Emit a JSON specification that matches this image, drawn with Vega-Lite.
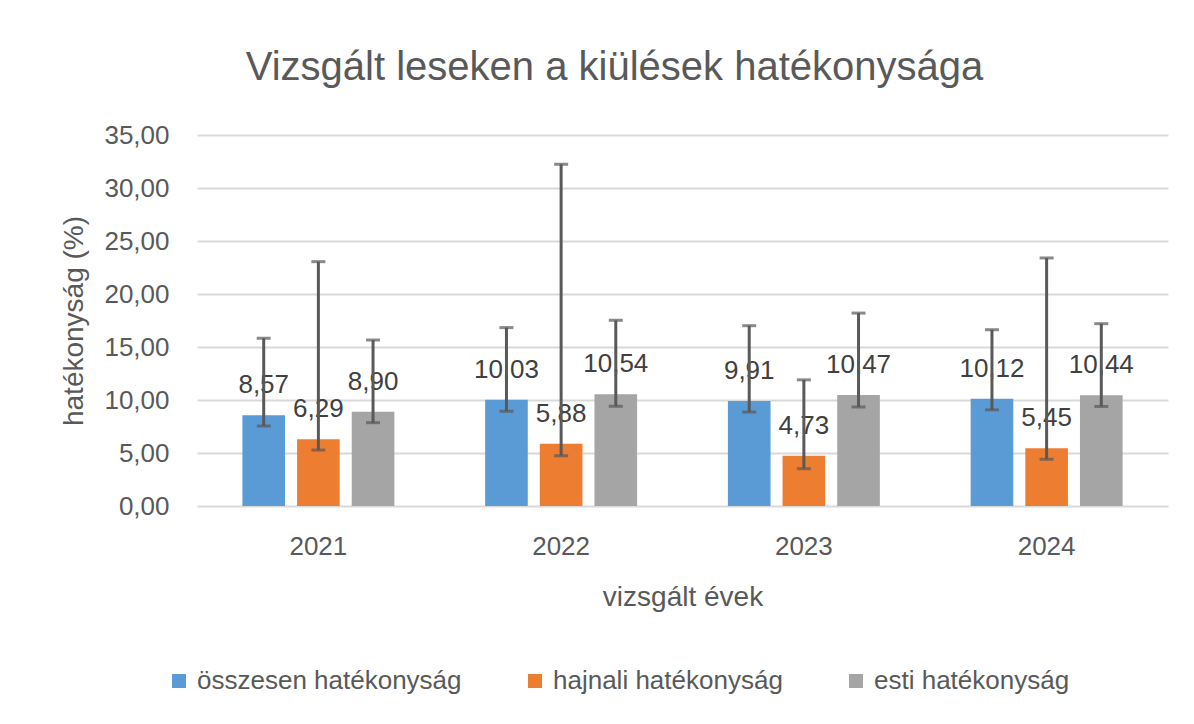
{
  "$schema": "https://vega.github.io/schema/vega-lite/v6.json",
  "width": 971,
  "height": 371,
  "autosize": {"type": "none"},
  "padding": {"left": 197, "top": 135, "right": 26, "bottom": 218},
  "background": "white",
  "config": {
    "locale": {"number": {"decimal": ",", "thousands": " ", "grouping": [3], "currency": ["", ""]}},
    "view": {"stroke": null},
    "font": "Liberation Sans"
  },
  "title": {
    "text": "Vizsgált leseken a kiülések hatékonysága",
    "font": "Liberation Sans",
    "fontSize": 40,
    "fontWeight": "normal",
    "color": "#595959",
    "anchor": "middle",
    "frame": "bounds",
    "baseline": "alphabetic",
    "offset": 2
  },
  "data": {
    "values": [
      {"ev": "2021", "sorozat": "összesen hatékonyság", "ertek": 8.57, "also": 7.55, "felso": 15.82},
      {"ev": "2021", "sorozat": "hajnali hatékonyság", "ertek": 6.29, "also": 5.28, "felso": 23.05},
      {"ev": "2021", "sorozat": "esti hatékonyság", "ertek": 8.90, "also": 7.86, "felso": 15.66},
      {"ev": "2022", "sorozat": "összesen hatékonyság", "ertek": 10.03, "also": 8.94, "felso": 16.83},
      {"ev": "2022", "sorozat": "hajnali hatékonyság", "ertek": 5.88, "also": 4.74, "felso": 32.24},
      {"ev": "2022", "sorozat": "esti hatékonyság", "ertek": 10.54, "also": 9.41, "felso": 17.52},
      {"ev": "2023", "sorozat": "összesen hatékonyság", "ertek": 9.91, "also": 8.86, "felso": 17.01},
      {"ev": "2023", "sorozat": "hajnali hatékonyság", "ertek": 4.73, "also": 3.52, "felso": 11.9},
      {"ev": "2023", "sorozat": "esti hatékonyság", "ertek": 10.47, "also": 9.34, "felso": 18.2},
      {"ev": "2024", "sorozat": "összesen hatékonyság", "ertek": 10.12, "also": 9.07, "felso": 16.63},
      {"ev": "2024", "sorozat": "hajnali hatékonyság", "ertek": 5.45, "also": 4.41, "felso": 23.4},
      {"ev": "2024", "sorozat": "esti hatékonyság", "ertek": 10.44, "also": 9.39, "felso": 17.2}
    ]
  },
  "encoding": {
    "x": {
      "field": "ev",
      "type": "nominal",
      "scale": {"paddingInner": 0.374, "paddingOuter": 0.187},
      "axis": {
        "title": "vizsgált évek",
        "labelAngle": 0,
        "domain": false,
        "ticks": false,
        "grid": false,
        "labelFont": "Liberation Sans",
        "labelFontSize": 26,
        "labelColor": "#595959",
        "labelPadding": 27,
        "titleFont": "Liberation Sans",
        "titleFontSize": 28,
        "titleFontWeight": "normal",
        "titleColor": "#595959",
        "titlePadding": 24
      }
    },
    "xOffset": {
      "field": "sorozat",
      "type": "nominal",
      "sort": ["összesen hatékonyság", "hajnali hatékonyság", "esti hatékonyság"],
      "scale": {"paddingInner": 0.22, "paddingOuter": 0}
    }
  },
  "layer": [
    {
      "mark": {"type": "bar"},
      "encoding": {
        "y": {
          "field": "ertek",
          "type": "quantitative",
          "scale": {"domain": [0, 35], "nice": false},
          "axis": {
            "title": "hatékonyság (%)",
            "values": [0, 5, 10, 15, 20, 25, 30, 35],
            "format": ".2f",
            "domain": false,
            "ticks": false,
            "grid": true,
            "gridColor": "#D9D9D9",
            "gridWidth": 2,
            "labelFont": "Liberation Sans",
            "labelFontSize": 26,
            "labelColor": "#595959",
            "labelPadding": 28,
            "titleFont": "Liberation Sans",
            "titleFontSize": 28,
            "titleFontWeight": "normal",
            "titleColor": "#595959",
            "titlePadding": 15
          }
        },
        "color": {
          "field": "sorozat",
          "type": "nominal",
          "sort": ["összesen hatékonyság", "hajnali hatékonyság", "esti hatékonyság"],
          "scale": {
            "domain": ["összesen hatékonyság", "hajnali hatékonyság", "esti hatékonyság"],
            "range": ["#5B9BD5", "#ED7D31", "#A5A5A5"]
          },
          "legend": {
            "title": null,
            "orient": "none",
            "legendX": -31,
            "legendY": 533,
            "direction": "horizontal",
            "symbolType": "square",
            "symbolSize": 196,
            "symbolStrokeWidth": 0,
            "labelFont": "Liberation Sans",
            "labelFontSize": 26,
            "labelColor": "#595959",
            "labelOffset": 5,
            "labelLimit": 500,
            "columnPadding": 60
          }
        }
      }
    },
    {
      "mark": {"type": "text", "baseline": "alphabetic", "dy": -22, "fontSize": 26, "color": "#404040", "font": "Liberation Sans"},
      "encoding": {
        "y": {"field": "ertek", "type": "quantitative"},
        "text": {"field": "ertek", "type": "quantitative", "format": ".2f"}
      }
    },
    {
      "mark": {"type": "rule", "color": "#595959", "strokeWidth": 3},
      "encoding": {
        "y": {"field": "also", "type": "quantitative"},
        "y2": {"field": "felso"}
      }
    },
    {
      "mark": {"type": "tick", "color": "#595959", "thickness": 3, "size": 14},
      "encoding": {
        "y": {"field": "also", "type": "quantitative"}
      }
    },
    {
      "mark": {"type": "tick", "color": "#595959", "thickness": 3, "size": 14},
      "encoding": {
        "y": {"field": "felso", "type": "quantitative"}
      }
    }
  ]
}
